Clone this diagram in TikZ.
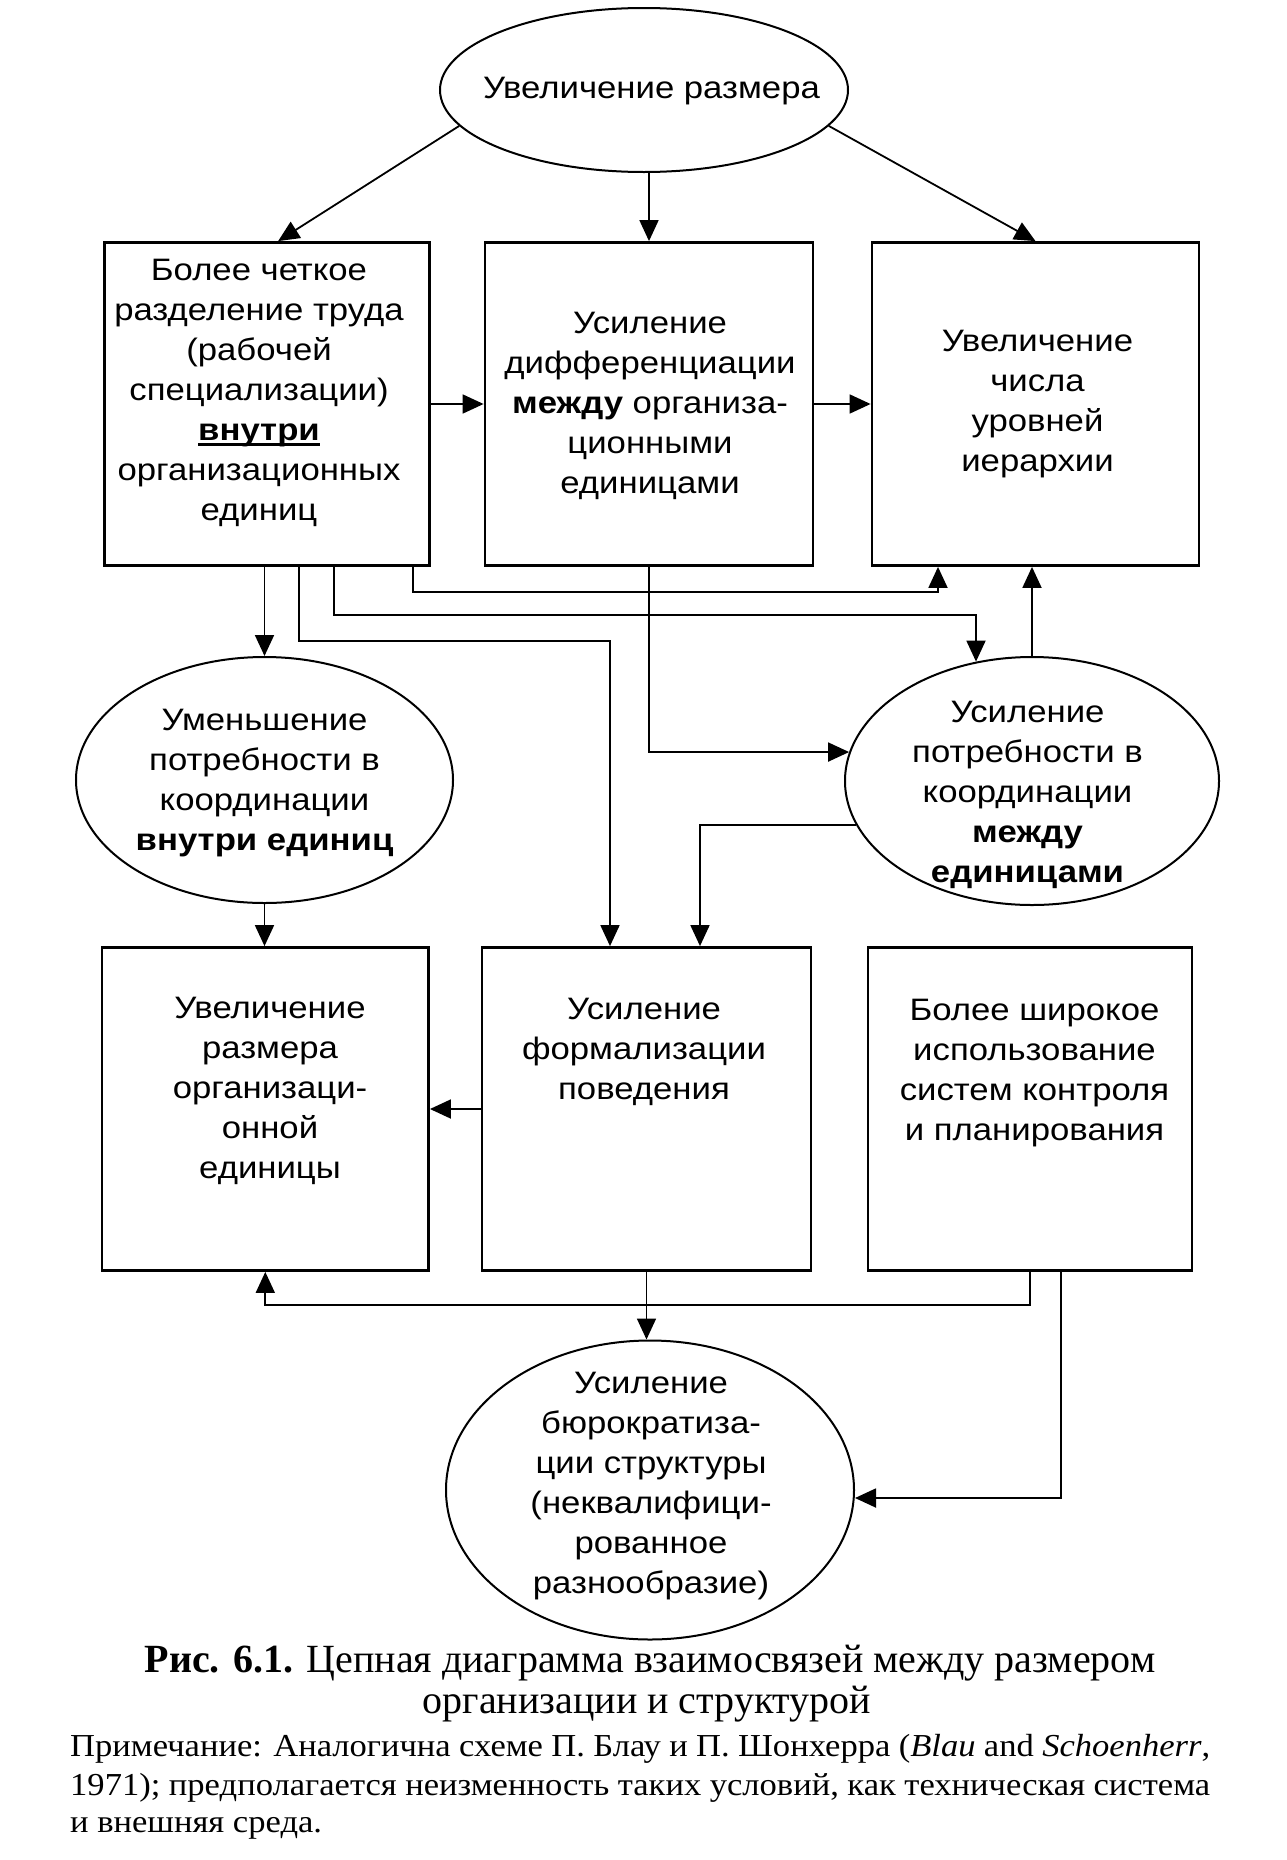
\documentclass[tikz,border=0pt]{standalone}
\usepackage{fontspec}
\setmainfont{Liberation Serif}
\newfontfamily\diagfont[FakeStretch=1.12]{Liberation Sans}
\newfontfamily\notefont[FakeStretch=1.08]{Liberation Serif}
\usetikzlibrary{arrows.meta,shapes.geometric,calc}
\newcommand\myul[1]{\setbox0\hbox{#1}\rlap{\rule[-5bp]{\wd0}{2.6bp}}\box0}
\begin{document}
\begin{tikzpicture}[x=1bp,y=-1bp,
  box/.style={draw, line width=2.8bp, rectangle, minimum height=323bp, inner sep=0pt},
  oval/.style={draw, line width=2bp, ellipse, inner sep=0pt},
  txt/.style={align=center, inner sep=0pt, font=\diagfont\fontsize{31bp}{40bp}\selectfont},
  arr/.style={line width=1.8bp, -{Triangle[length=21bp,width=19bp]}},
  captxt/.style={inner sep=0pt, font=\rmfamily\fontsize{40bp}{41bp}\selectfont},
  notetxt/.style={inner sep=0pt, font=\notefont\fontsize{32bp}{38bp}\selectfont}]
\useasboundingbox (0,0) rectangle (1286,1860);
\fill[white] (0,0) rectangle (1286,1860);

% shapes
\node[oval, minimum width=408bp, minimum height=164bp] (top) at (644,90) {};
\node[box, minimum width=325bp] (b1) at (267,404) {};
\node[box, minimum width=328bp] (b2) at (649,404) {};
\node[box, minimum width=327bp] (b3) at (1035.5,404) {};
\node[oval, minimum width=377bp, minimum height=246bp] (lel) at (264.5,780) {};
\node[oval, minimum width=374bp, minimum height=248bp] (rel) at (1032,781) {};
\node[box, minimum width=326.5bp] (b4) at (265.3,1109) {};
\node[box, minimum width=329bp] (b5) at (646.5,1109) {};
\node[box, minimum width=324bp] (b6) at (1030,1109) {};
\node[oval, minimum width=408bp, minimum height=299bp] (bel) at (650,1490) {};

% texts
\node[txt] (topt) at (651.5,91.5) {Увеличение размера};
\node[txt] (b1t) at (259,393) {Более четкое\\разделение труда\\(рабочей\\специализации)\\\myul{\bfseries внутри}\\организационных\\единиц};
\node[txt] (b2t) at (650,406) {Усиление\\дифференциации\\\textbf{между} организа-\\ционными\\единицами};
\node[txt] (b3t) at (1037.5,404) {Увеличение\\числа\\уровней\\иерархии};
\node[txt] (lelt) at (264.5,783) {Уменьшение\\потребности в\\координации\\\textbf{внутри единиц}};
\node[txt] (relt) at (1027.5,795) {Усиление\\потребности в\\координации\\\textbf{между}\\\textbf{единицами}};
\node[txt] (b4t) at (270,1091) {Увеличение\\размера\\организаци-\\онной\\единицы};
\node[txt] (b5t) at (644,1052) {Усиление\\формализации\\поведения};
\node[txt] (b6t) at (1034.5,1073) {Более широкое\\использование\\систем контроля\\и планирования};
\node[txt] (belt) at (651,1486) {Усиление\\бюрократиза-\\ции структуры\\(неквалифици-\\рованное\\разнообразие)};

% routing points
\coordinate (p7) at (299,641);
\coordinate (q7) at (610,641);
\coordinate (p8) at (334,615);
\coordinate (q8) at (976,615);
\coordinate (p9) at (413,592);
\coordinate (q9) at (938,592);
\coordinate (k12) at (700,825);
\coordinate (k16) at (0,1305);
\coordinate (k17) at (1061,1498);

% connectors
\draw[arr] (top.191) -- ($(b1.north west)!0.534!(b1.north east)$);
\draw[arr] (top.south -| b2.north) -- (b2.north);
\draw[arr] (top.349) -- (b3.north);
\draw[arr] (b1.east) -- (b2.west);
\draw[arr] (b2.east) -- (b3.west);
\draw[arr] (b1.south -| lel.north) -- (lel.north);
\draw[arr] (b1.south -| p7) -- (p7) -- (q7) -- (q7 |- b5.north);
\draw[arr] (b1.south -| p8) -- (p8) -- (q8) -- (q8 |- rel.115);
\draw[arr] (b1.south -| p9) -- (p9) -- (q9) -- (q9 |- b3.south);
\draw[arr] (b2.south) -- (b2.south |- rel.171.6) -- (rel.171.6);
\draw[arr] (rel.north) -- (rel.north |- b3.south);
\draw[arr] (rel.194) -- (rel.194 -| k12) -- (k12 |- b5.north);
\draw[arr] (lel.south) -- (lel.south |- b4.north);
\draw[arr] (b5.west) -- (b4.east);
\draw[arr] (b5.south) -- (b5.south |- bel.north);
\draw[arr] (b6.south) -- (b6.south |- k16) -- (b4.south |- k16) -- (b4.south);
\draw[arr] (b6.south -| k17) -- (k17) -- (k17 -| bel.east);

% caption
\node[captxt, anchor=base] (cap1) at (650,1672) {\textbf{Рис. 6.1.} Цепная диаграмма взаимосвязей между размером};
\node[captxt, anchor=base] (cap2) at (647,1713) {организации и структурой};
\node[notetxt, anchor=base west] (n1) at (70,1756) {\hbox to 1140bp{Примечание: Аналогична схеме П. Блау и П. Шонхерра (\textit{Blau} and \textit{Schoenherr},}};
\node[notetxt, anchor=base west] (n2) at (70,1795) {\hbox to 1140bp{1971); предполагается неизменность таких условий, как техническая система}};
\node[notetxt, anchor=base west] (n3) at (70,1832) {и внешняя среда.};
\end{tikzpicture}
\end{document}
